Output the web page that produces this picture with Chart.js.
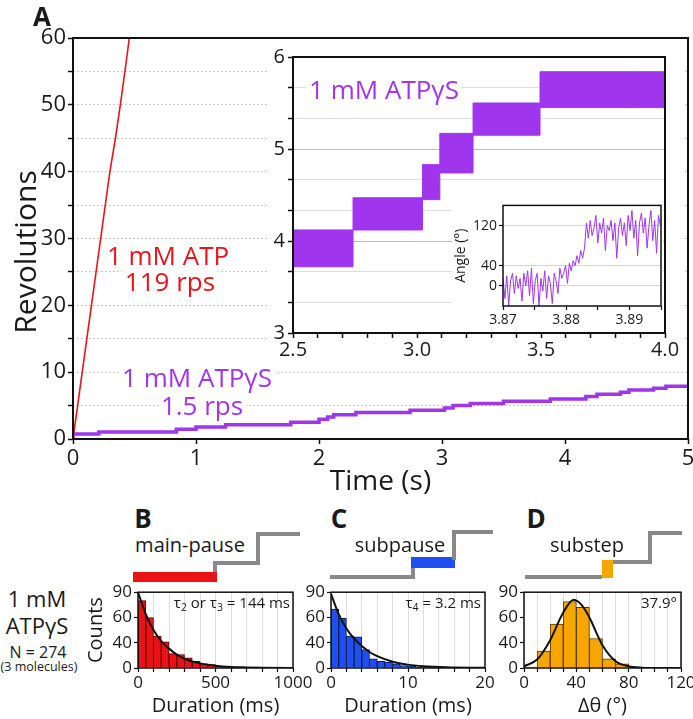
<!DOCTYPE html>
<html>
<head>
<meta charset="utf-8">
<script src="https://cdn.jsdelivr.net/npm/chart.js@4.4.1/dist/chart.umd.min.js"></script>
<style>
  body { margin: 0; background: #fff; }
  #wrap { position: relative; width: 693px; height: 719px; overflow: hidden; font-family: 'Open Sans', sans-serif; color: #1a1a1a; }
  canvas, svg { position: absolute; }
  .t { position: absolute; white-space: nowrap; line-height: 1; transform: translate(-50%, -50%); }
  .r { transform: translate(-100%, -50%); }
  .bg { background: #fff; padding: 0 3px; }
  .big { font-weight: bold; font-size: 26px; }
  sub { font-size: 70%; vertical-align: -3px; line-height: 0; }
</style>
</head>
<body>
<div id="wrap">
  <canvas id="cA" width="700" height="500" style="left:0;top:0"></canvas>
  <canvas id="cIn" width="416" height="322" style="left:267px;top:40px"></canvas>
  <canvas id="cAng" width="211" height="135" style="left:452px;top:195px"></canvas>
  <canvas id="cB" width="235" height="139" style="left:80px;top:580px"></canvas>
  <canvas id="cC" width="210" height="139" style="left:296px;top:580px"></canvas>
  <canvas id="cD" width="212" height="139" style="left:488px;top:580px"></canvas>

  <div class="t big" style="left:42px;top:16px">A</div>
  <div class="t" style="left:25px;top:252px;font-size:30px;transform:translate(-50%,-50%) rotate(-90deg)">Revolutions</div>
  <div class="t bg" style="left:168px;top:255px;font-size:26px;color:#e8141b">1 mM ATP</div>
  <div class="t bg" style="left:170px;top:281px;font-size:26px;color:#e8141b">119 rps</div>
  <div class="t bg" style="left:197px;top:377px;font-size:26px;color:#a035ee">1 mM ATPγS</div>
  <div class="t bg" style="left:202px;top:405px;font-size:26px;color:#a035ee">1.5 rps</div>
  <div class="t bg" style="left:384px;top:89px;font-size:26px;color:#a035ee">1 mM ATPγS</div>

  <div class="t big" style="left:143px;top:518px">B</div>
  <div class="t big" style="left:339px;top:518px">C</div>
  <div class="t big" style="left:536px;top:518px">D</div>
  <div class="t" style="left:190px;top:545px;font-size:20px">main-pause</div>
  <div class="t" style="left:400px;top:545px;font-size:20px">subpause</div>
  <div class="t" style="left:587px;top:545px;font-size:20px">substep</div>

  <div class="t" style="left:37px;top:598px;font-size:22px">1 mM</div>
  <div class="t" style="left:37px;top:625px;font-size:22px">ATPγS</div>
  <div class="t" style="left:38px;top:652px;font-size:16px">N = 274</div>
  <div class="t" style="left:39px;top:667px;font-size:12.5px">(3 molecules)</div>

  <div class="t r" style="left:290px;top:602px;font-size:15px">τ<sub>2</sub> or τ<sub>3</sub> = 144 ms</div>
  <div class="t r" style="left:481px;top:602px;font-size:15px">τ<sub>4</sub> = 3.2 ms</div>
  <div class="t r" style="left:677px;top:602px;font-size:15px">37.9°</div>

  <svg width="693" height="719" style="left:0;top:0;pointer-events:none" fill="none" stroke="#888" stroke-width="4">
    <rect x="133" y="572" width="84" height="10" fill="#ee1111" stroke="none"/>
    <polyline points="215,572 215,563 258,563 258,534 300,534"/>
    <polyline points="330,577 413,577 413,568"/>
    <rect x="411" y="557" width="44" height="11" fill="#1f4ff0" stroke="none"/>
    <polyline points="454,560 454,532 493,532"/>
    <polyline points="525,577 602,577"/>
    <rect x="602" y="560" width="11" height="18" fill="#f7a600" stroke="none"/>
    <polyline points="613,562 650,562 650,533 682,533"/>
  </svg>
</div>

<script>
// panel A: whole run
const atpTime = [0, 0.075, 0.15, 0.225, 0.3, 0.345, 0.385, 0.422, 0.458];
const atpRev = [0, 10, 20, 30, 40, 45, 50, 55, 60];
const gsTime = [0, 0.21, 0.84, 1.0, 1.24, 1.77, 2.0, 2.07, 2.12, 2.3, 2.74, 3.02, 3.09, 3.23, 3.5, 3.88, 4.17, 4.26, 4.45, 4.52, 4.72, 4.82, 4.97, 5.0];
const gsRev = [0.1, 0.75, 1.05, 1.45, 1.8, 2.15, 2.5, 2.95, 3.3, 3.63, 3.95, 4.3, 4.65, 5.0, 5.3, 5.65, 6.0, 6.35, 6.7, 7.0, 7.35, 7.6, 7.9, 7.9];

// inset 2.5-4.0 s, plateaus as noise envelopes
const insetTime = [2.5, 2.742, 3.022, 3.092, 3.226, 3.496, 3.882, 4.0];
const insetHi = [3.79, 4.12, 4.47, 4.83, 5.17, 5.5, 5.84, 5.84];
const insetLo = [3.47, 3.72, 4.12, 4.45, 4.74, 5.15, 5.45, 5.45];
const insetYTicks = [3, 10 / 3, 11 / 3, 4, 13 / 3, 14 / 3, 5, 16 / 3, 17 / 3, 6];

// angle trace 3.870-3.895 s, one sample every 0.3 ms
const angleStart = 3.87, angleDt = 0.0003;
const angleDeg = [15, -25, 20, -40, 10, 25, -15, 20, -5, 15, -30, 25, 0, 30, -20, 35, -35, 10, 25, -40, 15, -10, 30, -25, 20, 5, -35, 25, 10, -15, 35, 15, 25, 40,
  5, 45, 30, 50, 40, 60, 45, 70, 55, 75,
  125, 95, 130, 100, 115, 140, 85, 125, 105, 135, 70, 120, 110, 130, 90, 125, 55, 115, 135, 100, 125, 80, 140, 110, 150, 95, 130, 60, 125, 145, 105, 135, 75, 120, 150, 90, 130, 65, 140, 120];
const angleTicks = [0, 40, 120];

// histograms
const mainPauseBins = [25, 75, 125, 175, 225, 275, 325, 375, 425, 475, 525, 575, 625, 675, 725, 775, 825, 875, 925, 975];
const mainPauseCounts = [80, 60, 38, 31, 17, 16, 12, 8, 5, 4, 2, 1, 1, 0, 0, 0, 0, 0, 1, 0];
const mainPauseFitX = [0, 50, 100, 150, 200, 250, 300, 400, 500, 600, 700, 800, 1000];
const mainPauseFitY = [90, 64, 45, 32, 23, 16, 11, 5.5, 2.8, 1.3, 0.7, 0.3, 0.1];

const subpauseBins = [0.5, 1.5, 2.5, 3.5, 4.5, 5.5, 6.5, 7.5, 8.5, 9.5, 10.5, 11.5, 12.5, 13.5, 14.5, 15.5, 16.5, 17.5, 18.5, 19.5];
const subpauseCounts = [70, 59, 38, 37, 22, 11, 8, 7, 5, 3, 2, 1, 1, 0, 0, 0, 0, 0, 0, 0];
const subpauseFitX = [0, 1, 2, 3, 4, 5, 6, 8, 10, 12, 15, 20];
const subpauseFitY = [88, 64, 47, 35, 26, 19, 14, 7.5, 4, 2.2, 0.9, 0.2];

const substepBins = [5, 15, 25, 35, 45, 55, 65, 75, 85, 95, 105, 115];
const substepCounts = [1, 20, 52, 79, 72, 35, 11, 5, 0, 0, 0, 0];
const substepFitX = [0, 10, 20, 30, 38, 45, 50, 60, 70, 80, 90, 100, 120];
const substepFitY = [2, 10, 33, 66, 81, 73, 60, 27, 8, 2, 0.4, 0.1, 0];

const countTicks = [0, 30, 60, 90];
const countTickLabels = ['0', '40', '60', '90'];

const PURPLE = '#a035ee';
const RED = '#e8141b';
const INK = '#1a1a1a';

Chart.defaults.font.family = "'Open Sans', sans-serif";
Chart.defaults.color = INK;

const pts = (xs, ys) => xs.map((x, i) => ({ x: x, y: ys[i] }));

// white card + black frame round the plot area
Chart.register({
  id: 'frame',
  beforeDraw(chart, args, opts) {
    if (!opts.white) return;
    const ctx = chart.ctx;
    ctx.save();
    ctx.fillStyle = '#fff';
    ctx.fillRect(0, 0, chart.width, chart.height);
    ctx.restore();
  },
  afterDatasetsDraw(chart, args, opts) {
    const a = chart.chartArea, ctx = chart.ctx;
    ctx.save();
    ctx.lineWidth = opts.width || 1.5;
    ctx.strokeStyle = '#111';
    ctx.strokeRect(a.left, a.top, a.right - a.left, a.bottom - a.top);
    ctx.restore();
  }
});

const base = (pad, frame) => ({
  responsive: false,
  animation: false,
  events: [],
  layout: { padding: pad },
  plugins: { legend: { display: false }, tooltip: { enabled: false }, frame: frame }
});

// ---- panel A
new Chart(document.getElementById('cA'), {
  type: 'line',
  data: {
    datasets: [
      { data: pts(gsTime, gsRev), borderColor: PURPLE, borderWidth: 3.5, stepped: 'after', pointRadius: 0 },
      { data: pts(atpTime, atpRev), borderColor: RED, borderWidth: 1.6, pointRadius: 0 }
    ]
  },
  options: Object.assign(base({ top: 38, right: 12, left: 0, bottom: 0 }, { width: 2 }), {
    scales: {
      x: {
        type: 'linear', min: 0, max: 5,
        afterFit: s => { s.height = 61; },
        ticks: { stepSize: 1, font: { size: 22 }, padding: 2, maxRotation: 0 },
        grid: { drawOnChartArea: false, tickLength: 5, tickColor: '#111', tickWidth: 1.5 },
        border: { display: false },
        title: { display: true, text: 'Time (s)', font: { size: 28 }, padding: { top: 0, bottom: 1 } }
      },
      y: {
        min: 0, max: 60,
        afterFit: s => { s.width = 73; },
        ticks: { stepSize: 5, autoSkip: false, font: { size: 22 }, padding: 2, callback: v => (v % 10 === 0 ? v : '') },
        grid: { color: '#c9c9c9', tickLength: 5, tickColor: '#111', tickWidth: 1.5 },
        border: { display: false, dash: [2, 2] }
      }
    }
  })
});

// ---- inset 2.5-4.0 s
new Chart(document.getElementById('cIn'), {
  type: 'line',
  data: {
    datasets: [
      { data: pts(insetTime, insetLo), borderColor: PURPLE, borderWidth: 1, stepped: 'after', pointRadius: 0, fill: false },
      { data: pts(insetTime, insetHi), borderColor: PURPLE, borderWidth: 1, stepped: 'after', pointRadius: 0, fill: '-1', backgroundColor: PURPLE }
    ]
  },
  options: Object.assign(base({ top: 17, right: 18, left: 0, bottom: 0 }, { width: 2, white: true }), {
    scales: {
      x: {
        type: 'linear', min: 2.5, max: 4.0,
        afterFit: s => { s.height = 29; },
        ticks: {
          stepSize: 0.1, autoSkip: false, maxRotation: 0, font: { size: 20 }, padding: 0,
          callback: v => { const k = Math.round(v * 10); return k % 5 === 0 ? (k / 10).toFixed(1) : ''; }
        },
        grid: { drawOnChartArea: false, tickLength: 5, tickColor: '#111', tickWidth: 1.5 },
        border: { display: false }
      },
      y: {
        min: 3, max: 6,
        afterFit: s => { s.width = 26; },
        afterBuildTicks: s => { s.ticks = insetYTicks.map(v => ({ value: v })); },
        ticks: {
          autoSkip: false, font: { size: 20 }, padding: 3,
          callback: v => (Math.abs(v - Math.round(v)) < 1e-6 ? String(Math.round(v)) : '')
        },
        grid: {
          color: c => (c.tick && Math.abs(c.tick.value - Math.round(c.tick.value)) < 1e-6 ? '#bdbdbd' : '#dedede'),
          tickLength: 5, tickColor: '#111', tickWidth: 1.5
        },
        border: { display: false }
      }
    }
  })
});

// ---- angle trace around one step
new Chart(document.getElementById('cAng'), {
  type: 'line',
  data: {
    datasets: [
      { data: angleDeg.map((a, i) => ({ x: angleStart + i * angleDt, y: a })), borderColor: PURPLE, borderWidth: 1, pointRadius: 0 }
    ]
  },
  options: Object.assign(base({ top: 7, right: 2, left: 0, bottom: 0 }, { width: 1.5, white: true }), {
    scales: {
      x: {
        type: 'linear', min: 3.87, max: 3.895,
        afterFit: s => { s.height = 24; },
        ticks: {
          stepSize: 0.005, autoSkip: false, maxRotation: 0, font: { size: 14 }, padding: 2,
          callback: v => { const k = Math.round(v * 1000); return k % 10 === 0 ? (k / 1000).toFixed(2) : ''; }
        },
        grid: { drawOnChartArea: false, tickLength: 4, tickColor: '#111', tickWidth: 1.2 },
        border: { display: false }
      },
      y: {
        min: -40, max: 160,
        afterFit: s => { s.width = 51; },
        afterBuildTicks: s => { s.ticks = angleTicks.map(v => ({ value: v })); },
        ticks: { autoSkip: false, font: { size: 14 }, padding: 2 },
        grid: { color: '#d4d4d4', tickLength: 4, tickColor: '#111', tickWidth: 1.2 },
        border: { display: false },
        title: { display: true, text: 'Angle (°)', font: { size: 14 }, padding: { top: 1, bottom: 0 } }
      }
    }
  })
});

// ---- histograms B, C, D
function hist(id, bins, counts, fitX, fitY, fill, edge, xmax, step, labelEvery, yWidth, padRight, xTitle, yTitle) {
  return new Chart(document.getElementById(id), {
    type: 'bar',
    data: {
      datasets: [
        { type: 'line', data: pts(fitX, fitY), borderColor: '#111', borderWidth: 2, pointRadius: 0, cubicInterpolationMode: 'monotone', order: 0 },
        { data: pts(bins, counts), backgroundColor: fill, borderColor: edge, borderWidth: 1, barPercentage: 1, categoryPercentage: 1, order: 1 }
      ]
    },
    options: Object.assign(base({ top: 11, right: padRight, left: 0, bottom: 0 }, { width: 1.5 }), {
      scales: {
        x: {
          type: 'linear', min: 0, max: xmax, offset: false,
          afterFit: s => { s.height = 51; },
          ticks: {
            stepSize: step, autoSkip: false, maxRotation: 0, font: { size: 17 }, padding: 1,
            callback: v => (Math.abs(v / labelEvery - Math.round(v / labelEvery)) < 1e-6 ? v : '')
          },
          grid: { offset: false, color: '#dcdcdc', tickLength: 4, tickColor: '#111', tickWidth: 1.2 },
          border: { display: false },
          title: { display: true, text: xTitle, font: { size: 20 }, padding: { top: 0, bottom: 1 } }
        },
        y: {
          min: 0, max: 90,
          afterFit: s => { s.width = yWidth; },
          afterBuildTicks: s => { s.ticks = countTicks.map(v => ({ value: v })); },
          ticks: { autoSkip: false, font: { size: 17 }, padding: 2, callback: v => countTickLabels[countTicks.indexOf(v)] },
          grid: { drawOnChartArea: false, tickLength: 4, tickColor: '#111', tickWidth: 1.2 },
          border: { display: false },
          title: { display: !!yTitle, text: yTitle || '', font: { size: 20 }, padding: { top: 4, bottom: 0 } }
        }
      }
    })
  });
}

hist('cB', mainPauseBins, mainPauseCounts, mainPauseFitX, mainPauseFitY, '#ee1111', '#5a0000', 1000, 100, 500, 58, 22, 'Duration (ms)', 'Counts');
hist('cC', subpauseBins, subpauseCounts, subpauseFitX, subpauseFitY, '#1f4ff0', '#0a1a55', 20, 2, 10, 35, 21, 'Duration (ms)', '');
hist('cD', substepBins, substepCounts, substepFitX, substepFitY, '#f7a600', '#5a3c00', 120, 10, 40, 36, 19, 'Δθ (°)', '');
</script>
</body>
</html>
